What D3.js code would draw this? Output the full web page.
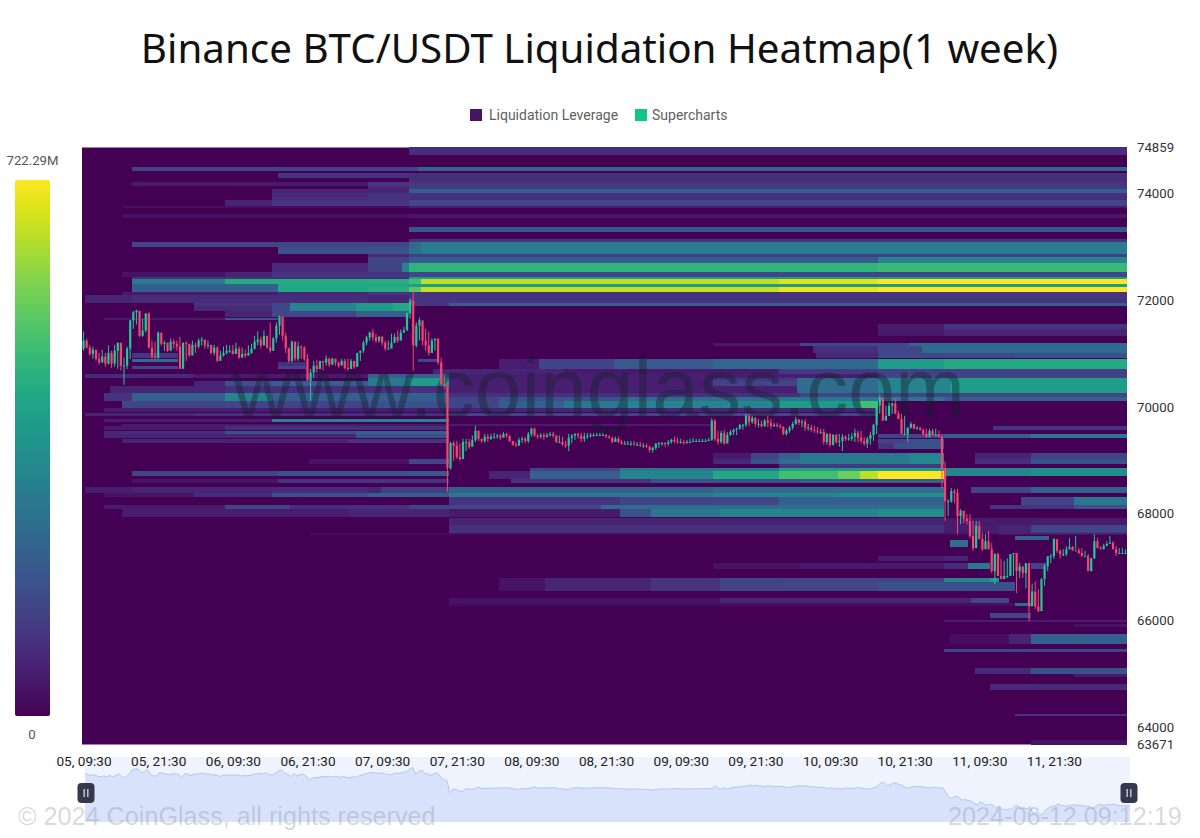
<!DOCTYPE html>
<html>
<head>
<meta charset="utf-8">
<title>Binance BTC/USDT Liquidation Heatmap</title>
<script src="https://cdn.jsdelivr.net/npm/d3@7"></script>
<style>
  html, body { margin: 0; padding: 0; background: #fff; }
  svg { display: block; }
  text { font-family: Roboto, sans-serif; }
</style>
</head>
<body>
<svg id="chart" width="1200" height="838"></svg>
<script>
// Half-hour candles for the week, in USDT. Each open is the previous close.
const candleCloses = [
  71240,71110,70990,71070,70900,70830,70940,70810,71010,70810,
  71050,71200,70770,70770,71090,71620,71770,71800,71330,71430,
  71750,71110,70940,70920,71390,71180,71200,71050,71220,71180,
  71130,70710,71200,71180,70960,71160,71130,71240,71260,71150,
  71160,71010,71110,70860,70960,71010,71050,71050,70990,71090,
  70920,70990,70960,71010,71090,71220,71260,71150,71330,71110,
  71050,71280,71520,71690,71330,71090,70860,71220,70900,71130,
  71110,70900,70490,70640,70770,70710,70860,70830,70900,70790,
  70900,70830,70770,70860,70730,70710,70860,70750,71010,71050,
  71200,71300,71390,71300,71240,71310,71200,71090,71090,71200,
  71310,71240,71390,71430,71750,71990,
  71150,71520,71620,71240,71150,71010,71240,71280,70830,70430,70390,68850,
  69320,69270,69060,69020,69340,69340,69250,69380,69550,69400,
  69360,69440,69400,69440,69440,69460,69420,69490,69460,69360,
  69290,69270,69380,69400,69360,69490,69590,69460,69440,69470,
  69440,69470,69490,69460,69340,69340,69290,69270,69420,69460,
  69490,69460,69400,69440,69460,69470,69470,69470,69470,69470,
  69440,69420,69340,69400,69340,69310,69310,69310,69310,69290,
  69290,69270,69270,69250,69190,69230,69310,69320,69320,69310,
  69340,69380,69360,69340,69340,69320,69340,69340,69360,69360,
  69360,69360,69360,69380,69740,69400,69340,69510,69310,69470,
  69530,69570,69590,69660,69660,69830,69720,69790,69680,69680,
  69640,69740,69700,69640,69660,69640,69620,69490,69550,69610,
  69680,69760,69700,69720,69610,69610,69570,69550,69530,69530,
  69340,69490,69290,69470,69340,69360,69440,69400,69400,69440,
  69510,69420,69360,69310,69400,69470,69660,70020,
  70170,69740,69830,70020,70060,69870,69770,69490,69490,69610,
  69680,69590,69610,69570,69490,69440,69550,69470,69470,69440,
  68840,68230,68230,68420,68390,67950,68050,67900,67860,67580,
  67350,67770,67520,67330,67480,67330,66920,67240,66830,66770,
  66830,66830,67240,67260,66920,67010,66880,67070,66260,66540,
  66260,66170,66770,67010,67200,67200,67520,67300,67240,67240,
  67330,67370,67310,67310,67260,67200,67200,66920,67160,67480,
  67350,67330,67390,67430,67450,67330,67260,67260,67260,67260
];
const candleHighs = [
  71410,71280,71160,71130,71050,71010,71070,71010,71150,71050,
  71160,71200,71160,70920,71130,71620,71800,71820,71710,71650,
  71750,71770,71240,71220,71410,71350,71240,71200,71280,71260,
  71240,71310,71200,71220,71180,71240,71200,71280,71310,71240,
  71240,71150,71160,71130,71050,71130,71160,71150,71160,71200,
  71130,71110,71070,71150,71180,71330,71410,71310,71430,71280,
  71580,71310,71580,71710,71670,71390,71110,71240,71220,71220,
  71150,71130,70990,70710,70860,70880,70860,70840,70960,70920,
  70920,70900,70840,70900,70900,70900,70900,70860,71010,71050,
  71240,71330,71410,71460,71370,71330,71330,71240,71240,71370,
  71370,71430,71450,71500,71770,72030,
  72160,71580,71670,71580,71460,71410,71280,71240,71200,70920,70580,70390,
  69340,69360,69360,69310,69400,69400,69400,69460,69640,69490,
  69400,69490,69490,69490,69510,69490,69490,69530,69510,69460,
  69360,69340,69420,69440,69440,69530,69610,69610,69490,69510,
  69510,69510,69530,69530,69470,69460,69440,69360,69490,69490,
  69510,69510,69510,69510,69510,69510,69510,69510,69510,69510,
  69490,69470,69440,69440,69440,69380,69360,69360,69360,69360,
  69340,69340,69320,69310,69270,69250,69320,69340,69340,69340,
  69380,69400,69440,69420,69400,69380,69380,69400,69420,69400,
  69400,69400,69400,69420,69790,69770,69550,69550,69570,69530,
  69570,69590,69610,69680,69680,69870,69870,69830,69810,69770,
  69740,69770,69830,69770,69700,69700,69680,69640,69590,69640,
  69720,69810,69770,69760,69770,69680,69660,69640,69620,69590,
  69590,69510,69510,69490,69490,69490,69490,69470,69490,69510,
  69590,69550,69550,69440,69440,69530,69680,70110,
  70230,70110,70020,70080,70080,70150,69920,69870,69830,69610,
  69720,69680,69640,69610,69590,69590,69590,69590,69590,69550,
  69490,68970,68270,68480,68460,68460,68080,68050,67990,67990,
  67860,67860,67860,67630,67610,67670,67450,67260,67260,67150,
  67110,67160,67240,67260,67240,67070,66980,67070,66860,66690,
  66730,66580,66790,67050,67200,67240,67540,67480,67330,67330,
  67390,67540,67390,67580,67350,67350,67300,67240,67160,67610,
  67540,67390,67430,67480,67580,67480,67390,67350,67350,67330
];
const candleLows = [
  71050,71090,70960,70900,70860,70790,70830,70750,70790,70730,
  70750,70710,70680,70410,70710,70900,71460,71540,71310,71310,
  71390,71090,70900,70900,70900,71150,71050,71030,71090,71090,
  71050,70710,70830,70860,70940,71010,71010,71090,71150,71090,
  71090,70980,70960,70840,70940,70940,70980,71010,70980,71010,
  70900,70940,70920,70960,70990,71070,71150,71090,71150,71090,
  71010,71050,71200,71350,71240,71010,70830,70830,70860,70860,
  70900,70860,70490,70110,70540,70640,70710,70680,70770,70750,
  70790,70770,70730,70810,70700,70680,70710,70710,70750,70860,
  71010,71150,71240,71240,71200,71200,71150,71050,71070,71130,
  71200,71200,71280,71390,71430,71650,
  70680,71110,71240,71150,71050,70960,71010,71050,70790,70390,70340,68400,
  68820,68990,69020,68990,69170,69170,69210,69270,69340,69360,
  69320,69320,69340,69380,69400,69400,69380,69440,69420,69340,
  69270,69250,69320,69320,69320,69320,69440,69440,69400,69400,
  69380,69420,69440,69420,69320,69320,69270,69230,69170,69320,
  69380,69400,69340,69340,69400,69420,69440,69460,69460,69460,
  69420,69400,69320,69340,69320,69290,69290,69290,69270,69270,
  69270,69250,69230,69230,69150,69140,69190,69230,69270,69250,
  69270,69310,69320,69310,69310,69290,69310,69320,69340,69340,
  69340,69340,69340,69360,69360,69360,69290,69310,69290,69340,
  69460,69470,69470,69570,69570,69620,69640,69680,69620,69610,
  69610,69620,69620,69590,69620,69610,69590,69470,69460,69510,
  69570,69660,69660,69620,69550,69550,69530,69510,69490,69490,
  69290,69290,69250,69270,69310,69250,69170,69360,69360,69360,
  69340,69340,69310,69270,69230,69290,69360,69490,
  69870,69740,69830,69830,69870,69870,69770,69490,69490,69340,
  69590,69590,69570,69550,69460,69420,69420,69460,69460,69420,
  68480,67860,67950,68200,68200,67610,67800,67820,67800,67540,
  67300,67540,67520,67300,67450,67330,66880,66680,66830,66770,
  66790,66790,66830,66830,66510,66790,66790,66600,65980,66320,
  66210,66150,66260,66640,66920,67070,67150,67260,67160,67200,
  67200,67330,67300,67330,67240,67200,67200,66920,66920,67150,
  67350,67330,67330,67390,67430,67330,67200,67240,67240,67240
];

// Liquidation levels: [upper price, lower price, [candle index, millions, candle index, millions, ...]].
// A value holds from its index until the next index in the list.
const liquidationBands = [
  [74860,74710,[105,95]],
  [74490,74410,[16,144,108,235]],
  [74380,74280,[63,108,105,95]],
  [74280,74210,[105,95]],
  [74210,74130,[16,50,92,115]],
  [74130,74080,[92,80,105,120]],
  [74080,74000,[61,72,105,215]],
  [74000,73870,[61,87,92,108,105,100]],
  [73870,73770,[46,72,61,108,105,150]],
  [73770,73720,[13,25,105,55]],
  [73620,73530,[13,30,105,45]],
  [73360,73270,[105,195]],
  [73150,73080,[105,110]],
  [73080,72990,[16,144,105,240,109,300]],
  [72990,72870,[63,180,105,265,109,300]],
  [72870,72800,[92,80,105,130]],
  [72800,72700,[92,144,105,210,256,325]],
  [72700,72520,[61,87,92,144,103,325,105,470,256,490]],
  [72520,72440,[13,36,46,72,61,108,105,150]],
  [72440,72390,[16,100,105,400]],
  [72390,72310,[16,300,46,445,105,505,109,650,224,690,256,722]],
  [72310,72240,[16,217,63,430,105,400]],
  [72240,72160,[16,217,63,430,92,450,105,540,109,660,224,700,256,722]],
  [72160,72090,[13,50,63,80,92,110,105,108]],
  [72090,71950,[1,72,16,90,92,72,105,108]],
  [71950,71880,[36,108,61,150,67,325,88,397,100,433,105,108,118,217]],
  [71880,71800,[36,80,61,150,67,325,88,397,100,433,105,0]],
  [71800,71690,[46,72,61,150,88,217,105,0]],
  [71670,71620,[7,50,46,180,63,0]],
  [71560,71460,[256,58,277,108]],
  [71460,71330,[256,50,277,72]],
  [71200,71130,[203,50,231,160,266,240]],
  [71130,71000,[235,100,256,150,270,250]],
  [71010,70920,[16,108,31,0,236,80,256,150,300,180]],
  [70900,70830,[16,253,31,0,108,144,114,0,134,58,147,144,171,200,203,240,256,397,277,440]],
  [70830,70770,[63,100,72,0,134,58,147,144,171,200,203,240,256,397,277,440]],
  [70770,70710,[16,144,31,0,63,144,72,0,134,58,147,144,171,200,203,240,256,397,277,440]],
  [70710,70620,[113,72,155,50,224,120,256,140]],
  [70620,70540,[1,87,36,50,92,217,118,60,256,144]],
  [70540,70490,[92,289,105,397,118,60,203,120,230,253,256,325,279,400]],
  [70490,70390,[36,72,46,180,61,217,92,289,105,397,118,60,203,144,230,253,256,325,279,400]],
  [70390,70260,[9,72,46,100,118,60,230,253,256,325,279,400]],
  [70260,70190,[7,108,16,217,46,325,61,217,118,100,231,144]],
  [70190,70110,[7,108,16,217,46,325,61,217,118,144,134,180,173,253,224,289,277,217]],
  [70110,69980,[13,144,92,180,118,144,134,217,155,289,173,325,224,397,250,505,256,0]],
  [69980,69900,[7,58,118,72,256,0]],
  [69890,69830,[1,72,36,100,118,144,256,0]],
  [69770,69720,[7,58,61,325,118,0]],
  [69680,69640,[13,50,118,58,203,0]],
  [69640,69570,[7,50,46,100,118,0,293,108]],
  [69550,69490,[7,87,46,180,88,217,118,0]],
  [69490,69420,[7,72,88,180,118,0,256,144,277,217,305,289]],
  [69400,69320,[13,72,86,108,118,0,256,144,266,180,277,0]],
  [69320,69210,[256,108,261,180,277,0]],
  [69130,69020,[203,50,215,144,224,217,231,289,266,325,277,0,287,72,305,144]],
  [69020,68930,[73,36,105,144,118,0,203,80,215,180,224,253,231,300,266,340,277,0,287,100,305,180]],
  [68930,68860,[224,120,277,0]],
  [68860,68800,[144,144,173,289,224,400,277,325,305,361]],
  [68800,68710,[16,144,63,180,105,200,118,0,131,72,144,217,173,325,203,433,224,505,243,560,250,650,256,722,277,325,305,361]],
  [68710,68650,[131,72,144,217,173,325,203,433,224,505,243,560,250,650,256,722,277,0]],
  [68650,68570,[16,36,63,108,118,0,138,108,183,180,231,217,277,0]],
  [68500,68390,[1,58,16,72,61,87,92,72,96,130,118,217,203,253,277,0,286,144,305,217]],
  [68390,68300,[7,36,36,87,61,180,92,217,118,289,203,325,243,361,277,0]],
  [68300,68150,[118,108,173,144,224,217,277,0,302,144,319,289]],
  [68150,68090,[7,50,46,144,67,94,105,144,134,144,167,253,277,0,292,108,319,180]],
  [68090,67930,[13,58,86,72,118,50,173,180,183,289,205,325,256,361,277,0]],
  [67920,67790,[118,72,277,50]],
  [67790,67640,[118,100,277,58,295,72,305,144]],
  [67640,67600,[73,25,295,50]],
  [67580,67500,[300,217,311,0]],
  [67500,67370,[279,253,285,0]],
  [67200,67110,[256,58,277,72,285,0]],
  [67070,66960,[203,36,231,50,277,87,285,289,292,0,305,144,310,0]],
  [66790,66710,[134,36,149,72,183,108,205,144,277,325,292,397,295,0]],
  [66710,66540,[134,36,149,72,183,108,205,144,224,150,256,180,300,0]],
  [66410,66320,[118,36,205,72,286,144,298,0]],
  [66320,66260,[118,25,300,253,305,0]],
  [66130,66040,[292,144,305,0]],
  [66000,65970,[277,58]],
  [65920,65870,[319,36]],
  [65740,65550,[279,25,298,72,305,217]],
  [65460,65400,[277,144]],
  [65100,64990,[287,87,305,180]],
  [64990,64930,[319,50]],
  [64800,64700,[292,87]],
  [64250,64200,[300,108]],
  [63760,63671,[305,36]]
];

const priceTicks = [74859, 74000, 72000, 70000, 68000, 66000, 64000, 63671];
const timeLabels = ["05, 09:30","05, 21:30","06, 09:30","06, 21:30","07, 09:30","07, 21:30","08, 09:30",
                    "08, 21:30","09, 09:30","09, 21:30","10, 09:30","10, 21:30","11, 09:30","11, 21:30"];
const colorMax = 722.29;
const legendItems = [["Liquidation Leverage", "#47145f"], ["Supercharts", "#12c585"]];

const svg = d3.select("#chart");
const plot = { left: 82, right: 1127, top: 147.5, bottom: 744.5 };
const candleCount = candleCloses.length;

const x = d3.scaleLinear().domain([0, candleCount]).range([plot.left, plot.right]);
const y = d3.scaleLinear().domain([63671, 74859]).range([plot.bottom, plot.top]);
const heat = v => d3.interpolateViridis(Math.min(1, v / colorMax));

// Title and legend
svg.append("text").attr("x", 599.5).attr("y", 63).attr("text-anchor", "middle")
  .style("font-family", "'Noto Sans', sans-serif").style("font-size", "40.3px").attr("fill", "#111")
  .text("Binance BTC/USDT Liquidation Heatmap(1 week)");

const legendX = [470, 635];
legendItems.forEach(([label, color], i) => {
  const g = svg.append("g").attr("transform", `translate(${legendX[i]},109)`);
  g.append("rect").attr("width", 12).attr("height", 12).attr("fill", color);
  g.append("text").attr("x", i ? 17 : 19).attr("y", 10.5).attr("fill", "#5f5f5f")
    .style("font-size", "14px").text(label);
});

// Colour scale bar
const gradient = svg.append("defs").append("linearGradient").attr("id", "scaleBar")
  .attr("x1", 0).attr("x2", 0).attr("y1", 1).attr("y2", 0);
d3.range(0, 1.001, 0.05).forEach(t => {
  gradient.append("stop").attr("offset", t).attr("stop-color", d3.interpolateViridis(t));
});
svg.append("rect").attr("x", 15).attr("y", 180).attr("width", 35).attr("height", 536).attr("rx", 2)
  .attr("fill", "url(#scaleBar)");
svg.append("text").attr("x", 32.5).attr("y", 165).attr("text-anchor", "middle").attr("fill", "#555")
  .style("font-size", "13.2px").text(colorMax + "M");
svg.append("text").attr("x", 32).attr("y", 739).attr("text-anchor", "middle").attr("fill", "#555")
  .style("font-size", "13.2px").text("0");

// Heatmap cells
svg.append("rect").attr("x", plot.left).attr("y", plot.top)
  .attr("width", plot.right - plot.left).attr("height", plot.bottom - plot.top)
  .attr("fill", d3.interpolateViridis(0));

const cells = liquidationBands.flatMap(([top, bottom, steps]) => {
  const out = [];
  for (let i = 0; i < steps.length; i += 2) {
    const end = i + 2 < steps.length ? steps[i + 2] : candleCount;
    if (steps[i + 1] > 0) out.push({ top, bottom, start: steps[i], end, value: steps[i + 1] });
  }
  return out;
});
svg.append("g").attr("shape-rendering", "crispEdges").selectAll("rect").data(cells).join("rect")
  .attr("x", d => x(d.start))
  .attr("width", d => x(d.end) - x(d.start))
  .attr("y", d => y(d.top))
  .attr("height", d => y(d.bottom) - y(d.top))
  .attr("fill", d => heat(d.value));

// Site mark across the plot
svg.append("text").attr("x", 598.5).attr("y", 417).attr("text-anchor", "middle")
  .style("font-family", "'Liberation Sans', Arial, sans-serif").style("font-size", "84px")
  .attr("fill", "rgba(20,30,45,0.4)").text("www.coinglass.com");

// Candles
const candleData = candleCloses.map((close, i) => ({
  i, close,
  open: i ? candleCloses[i - 1] : 71090,
  high: candleHighs[i],
  low: candleLows[i]
}));
const upColor = "#23c795", downColor = "#f2476f";
const candle = svg.append("g").selectAll("g").data(candleData).join("g");
candle.append("line")
  .attr("x1", d => x(d.i + 0.5)).attr("x2", d => x(d.i + 0.5))
  .attr("y1", d => y(d.high)).attr("y2", d => y(d.low))
  .attr("stroke", d => d.close >= d.open ? upColor : downColor).attr("stroke-width", 1);
candle.append("rect")
  .attr("x", d => x(d.i + 0.5) - 1.1).attr("width", 2.2)
  .attr("y", d => y(Math.max(d.open, d.close)))
  .attr("height", d => Math.max(1, Math.abs(y(d.open) - y(d.close))))
  .attr("fill", d => d.close >= d.open ? upColor : downColor);

// Axes
const rightAxis = svg.append("g").attr("transform", `translate(${plot.right},0)`)
  .call(d3.axisRight(y).tickValues(priceTicks).tickSize(0).tickPadding(10).tickFormat(d3.format("d")));
rightAxis.select(".domain").remove();
rightAxis.selectAll("text").style("font-family", "Roboto, sans-serif").style("font-size", "13.2px").attr("fill", "#333");

const timeScale = d3.scalePoint().domain(timeLabels)
  .range([x(0.5), x(0.5 + 24 * (timeLabels.length - 1))]);

// Range slider with its overview of the closes
const sliderTop = 757, sliderBottom = 822;
const sliderX = d3.scaleLinear().domain([0, candleCount - 1]).range([85, 1130]);
const sliderY = d3.scaleLinear().domain([66000, 72160]).range([816, 766]);
svg.append("rect").attr("x", 85).attr("y", sliderTop)
  .attr("width", 1045).attr("height", sliderBottom - sliderTop).attr("fill", "#eef3fe");
svg.append("path").datum(candleCloses)
  .attr("d", d3.area().x((d, i) => sliderX(i)).y0(sliderBottom).y1(d => sliderY(d)))
  .attr("fill", "#d8e3fb");
svg.append("path").datum(candleCloses)
  .attr("d", d3.line().x((d, i) => sliderX(i)).y(d => sliderY(d)))
  .attr("fill", "none").attr("stroke", "#b4c6ee").attr("stroke-width", 1);

const timeAxis = svg.append("g").attr("transform", "translate(0,753)")
  .call(d3.axisBottom(timeScale).tickSize(0).tickPadding(3));
timeAxis.select(".domain").remove();
timeAxis.selectAll("text").style("font-family", "Roboto, sans-serif").style("font-size", "13.6px").attr("fill", "#222");

[86, 1129].forEach(cx => {
  const g = svg.append("g").attr("transform", `translate(${cx},793)`);
  g.append("rect").attr("x", -8.5).attr("y", -10).attr("width", 17).attr("height", 20).attr("rx", 4).attr("fill", "#343a4c");
  g.append("rect").attr("x", -2.5).attr("y", -4).attr("width", 1.4).attr("height", 8).attr("fill", "#c9ccd6");
  g.append("rect").attr("x", 1.1).attr("y", -4).attr("width", 1.4).attr("height", 8).attr("fill", "#c9ccd6");
});

// Footer marks
const footer = [
  { x: 18, text: "\u00a9 2024 CoinGlass, all rights reserved" },
  { x: 948, text: "2024-06-12 09:12:19" }
];
svg.selectAll("text.footer").data(footer).join("text").attr("class", "footer")
  .attr("x", d => d.x).attr("y", 825)
  .style("font-family", "'Liberation Sans', Arial, sans-serif").style("font-size", "25.2px")
  .attr("fill", "rgba(130,135,150,0.33)").text(d => d.text);
</script>
</body>
</html>
